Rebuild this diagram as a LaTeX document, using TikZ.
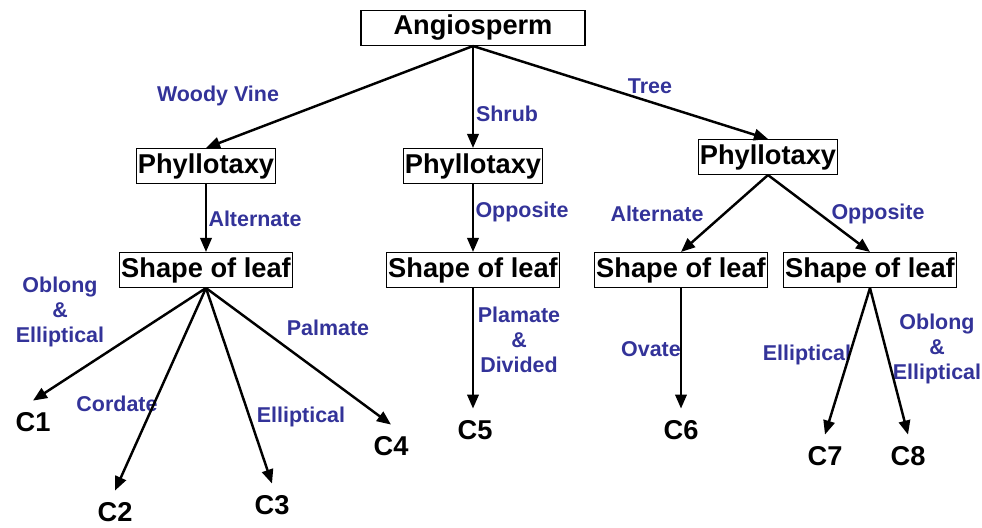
\documentclass[tikz,border=0pt]{standalone}
\usepackage{fontspec}
\setmainfont{Liberation Sans}
\usepackage{xcolor}
\usetikzlibrary{arrows.meta}
\definecolor{LabelBlue}{RGB}{51,51,153}

\begin{document}
\begin{tikzpicture}[
  x=0.2mm,y=-0.2mm,
  >={Triangle[length=8pt,width=6.5pt]},
  box/.style={draw,line width=0.6pt,inner xsep=1pt,inner ysep=0pt,minimum height=0.7cm,font=\fontsize{15.5}{18}\selectfont\bfseries},
  leaf/.style={font=\fontsize{15.5}{18}\selectfont\bfseries,inner xsep=2pt,inner ysep=6.5pt},
  lbl/.style={text=LabelBlue,align=center,font=\fontsize{12.2}{14.2}\selectfont\bfseries,inner sep=1pt},
  link/.style={->,line width=1.4pt}
]
\useasboundingbox (0,0) rectangle (982,527);
% tree of boxes
\node[box,minimum width=4.48cm] (ang) at (473,28) {Angiosperm};
\node[box] (ph1) at (206,166) {Phyllotaxy};
\node[box] (ph2) at (473,166) {Phyllotaxy};
\node[box] (ph3) at (768,157) {Phyllotaxy};
\node[box] (sl1) at (206,270) {Shape of leaf};
\node[box] (sl2) at (473,270) {Shape of leaf};
\node[box] (sl3) at (681,270) {Shape of leaf};
\node[box] (sl4) at (870,270) {Shape of leaf};
% leaves
\node[leaf] (c1) at (33,422) {C1};
\node[leaf] (c2) at (115,512) {C2};
\node[leaf] (c3) at (272,505) {C3};
\node[leaf] (c4) at (391,446) {C4};
\node[leaf] (c5) at (475,430) {C5};
\node[leaf] (c6) at (681,430) {C6};
\node[leaf] (c7) at (825,456) {C7};
\node[leaf] (c8) at (908,456) {C8};
% labels
\node[lbl] (woody) at (218,96) {Woody Vine};
\node[lbl] (shrub) at (507,114) {Shrub};
\node[lbl] (tree) at (650,86) {Tree};
\node[lbl] (alt1) at (255,219) {Alternate};
\node[lbl] (opp1) at (522,212) {Opposite};
\node[lbl] (alt2) at (657,214) {Alternate};
\node[lbl] (opp2) at (878,214) {Opposite};
\node[lbl] (oblong1) at (60,312) {Oblong\\\&\\Elliptical};
\node[lbl] (cordate) at (117,404) {Cordate};
\node[lbl] (ellip1) at (301,417) {Elliptical};
\node[lbl] (palmate) at (328,328) {Palmate};
\node[lbl] (plamate) at (519,340) {Plamate\\\&\\Divided};
\node[lbl] (ovate) at (651,349) {Ovate};
\node[lbl] (ellip2) at (807,355) {Elliptical};
\node[lbl] (oblong2) at (937,349) {Oblong\\\&\\Elliptical};
% connectors
\draw[link] (ang.south)--(ph1.north);
\draw[link] (ang.south)--(ph2.north);
\draw[link] (ang.south)--(ph3.north);
\draw[link] (ph1.south)--(sl1.north);
\draw[link] (ph2.south)--(sl2.north);
\draw[link] (ph3.south)--(sl3.north);
\draw[link] (ph3.south)--(sl4.north);
\draw[link] (sl1.south)--(c1.north);
\draw[link] (sl1.south)--(c2.north);
\draw[link] (sl1.south)--(c3.north);
\draw[link] (sl1.south)--(c4.north);
\draw[link] (sl2.south)--(sl2.south|-c5.north);
\draw[link] (sl3.south)--(c6.north);
\draw[link] (sl4.south)--(c7.north);
\draw[link] (sl4.south)--(c8.north);
\end{tikzpicture}
\end{document}
